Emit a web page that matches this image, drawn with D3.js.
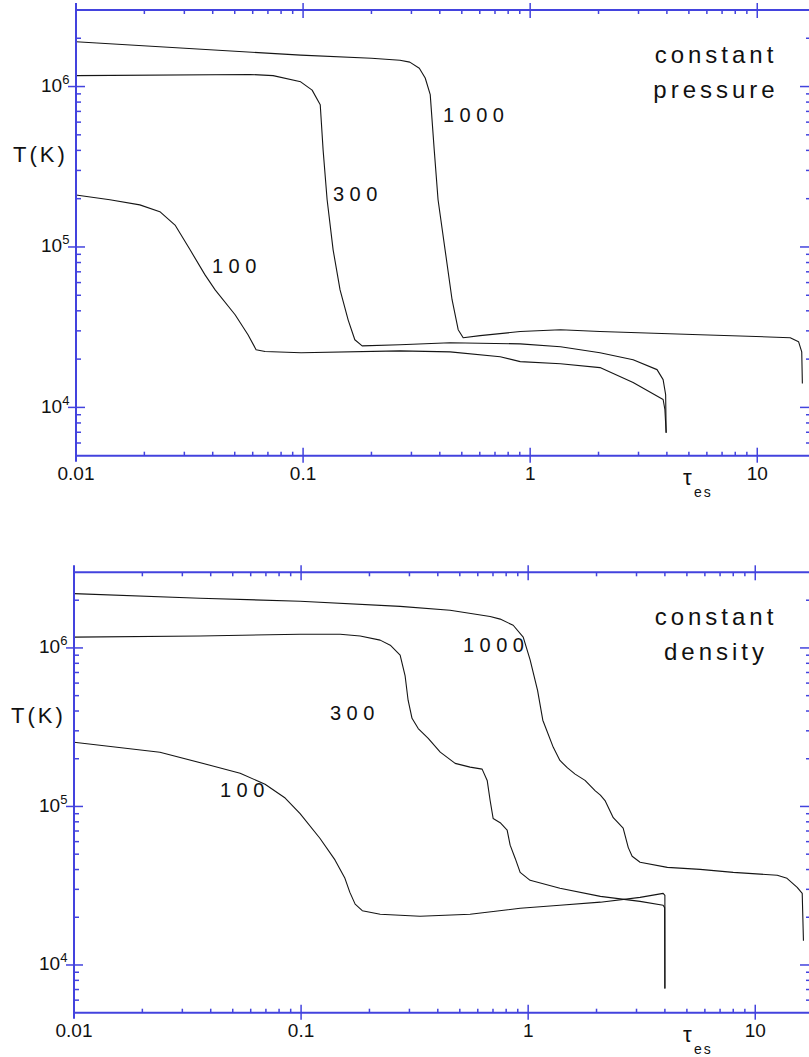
<!DOCTYPE html>
<html>
<head>
<meta charset="utf-8">
<script src="https://cdn.jsdelivr.net/npm/d3@7"></script>
<style>
  body { margin: 0; background: #fff; }
  svg text { font-family: "Liberation Sans", Arial, Helvetica, sans-serif; fill: #111; }
</style>
</head>
<body>
<script>
// ---- constant pressure curves (tau_es, T in K)
var tauP1000 = [0.01, 0.0976, 0.2, 0.267, 0.295, 0.325, 0.345, 0.363, 0.378, 0.393, 0.422, 0.453, 0.482, 0.507, 0.602, 0.904, 1.36, 2.03, 5.61, 13.97, 15.2, 15.7, 15.8];
var tP1000   = [1.90e6, 1.57e6, 1.50e6, 1.46e6, 1.42e6, 1.30e6, 1.13e6, 8.9e5, 4.03e5, 1.97e5, 9.6e4, 4.69e4, 3.05e4, 2.72e4, 2.80e4, 2.97e4, 3.05e4, 2.97e4, 2.84e4, 2.72e4, 2.57e4, 2.22e4, 1.41e4];

var tauP300 = [0.01, 0.0584, 0.0738, 0.0976, 0.1096, 0.119, 0.1225, 0.1276, 0.1356, 0.1455, 0.158, 0.169, 0.182, 0.267, 0.444, 0.904, 1.36, 2.03, 2.84, 3.62, 3.85, 3.95, 3.97];
var tP300   = [1.17e6, 1.19e6, 1.17e6, 1.07e6, 9.5e5, 7.7e5, 4.03e5, 1.97e5, 9.6e4, 5.4e4, 3.5e4, 2.64e4, 2.42e4, 2.46e4, 2.53e4, 2.49e4, 2.39e4, 2.19e4, 1.98e4, 1.72e4, 1.49e4, 1.2e4, 6.95e3];

var tauP100 = [0.01, 0.0141, 0.0191, 0.0234, 0.0273, 0.0318, 0.037, 0.041, 0.0502, 0.0572, 0.0621, 0.068, 0.098, 0.267, 0.444, 0.738, 0.904, 1.36, 2.03, 2.84, 3.85, 3.92, 3.97];
var tP100   = [2.11e5, 1.97e5, 1.83e5, 1.66e5, 1.37e5, 9.6e4, 6.7e4, 5.4e4, 3.78e4, 2.84e4, 2.29e4, 2.23e4, 2.19e4, 2.25e4, 2.22e4, 2.07e4, 1.93e4, 1.87e4, 1.77e4, 1.43e4, 1.12e4, 9.7e3, 6.95e3];

// ---- constant density curves
var tauD1000 = [0.01, 0.0359, 0.099, 0.273, 0.453, 0.68, 0.753, 0.859, 0.951, 1.02, 1.10, 1.16, 1.29, 1.38, 1.49, 1.61, 1.78, 1.97, 2.08, 2.18, 2.37, 2.62, 2.76, 2.87, 3.11, 4.10, 5.72, 8.0, 12.5, 13.8, 15.3, 16.1, 16.3];
var tD1000   = [2.20e6, 2.06e6, 1.97e6, 1.83e6, 1.73e6, 1.58e6, 1.52e6, 1.39e6, 1.17e6, 8.4e5, 5.4e5, 3.5e5, 2.36e5, 1.95e5, 1.75e5, 1.60e5, 1.46e5, 1.26e5, 1.18e5, 1.09e5, 8.5e4, 7.3e4, 5.5e4, 4.85e4, 4.45e4, 4.13e4, 4.01e4, 3.84e4, 3.68e4, 3.52e4, 3.09e4, 2.83e4, 1.42e4];

var tauD300 = [0.01, 0.0359, 0.099, 0.1486, 0.182, 0.223, 0.247, 0.273, 0.287, 0.296, 0.308, 0.328, 0.363, 0.410, 0.477, 0.555, 0.627, 0.660, 0.680, 0.701, 0.753, 0.808, 0.833, 0.877, 0.922, 1.02, 1.38, 2.08, 3.11, 3.93, 3.99, 4.0];
var tD300   = [1.17e6, 1.19e6, 1.22e6, 1.22e6, 1.19e6, 1.12e6, 1.04e6, 9.0e5, 6.7e5, 4.68e5, 3.6e5, 3.1e5, 2.69e5, 2.20e5, 1.87e5, 1.77e5, 1.72e5, 1.46e5, 1.09e5, 8.4e4, 7.9e4, 7.1e4, 5.7e4, 4.7e4, 3.84e4, 3.42e4, 3.05e4, 2.71e4, 2.52e4, 2.38e4, 2.3e4, 7.1e3];

var tauD100 = [0.01, 0.0239, 0.0397, 0.0539, 0.0694, 0.0851, 0.099, 0.121, 0.141, 0.156, 0.164, 0.173, 0.186, 0.223, 0.334, 0.555, 0.922, 1.38, 2.08, 3.11, 3.93, 4.0, 4.0];
var tD100   = [2.54e5, 2.20e5, 1.82e5, 1.62e5, 1.38e5, 1.13e5, 9.0e4, 6.3e4, 4.6e4, 3.52e4, 2.87e4, 2.42e4, 2.2e4, 2.09e4, 2.03e4, 2.09e4, 2.28e4, 2.38e4, 2.49e4, 2.67e4, 2.83e4, 2.75e4, 7.1e3];

// ---- axes
var xDomain = [0.01, 16.9];
var yDomain = [5e3, 3e6];
var xMajor = [0.01, 0.1, 1, 10];
var xLabels = ["0.01", "0.1", "1", "10"];
var xMinor = [0.02, 0.03, 0.04, 0.05, 0.06, 0.07, 0.08, 0.09,
              0.2, 0.3, 0.4, 0.5, 0.6, 0.7, 0.8, 0.9,
              2, 3, 4, 5, 6, 7, 8, 9];
var yMajor = [1e4, 1e5, 1e6];
var yExp = ["4", "5", "6"];
var yMinor = [6e3, 7e3, 8e3, 9e3,
              2e4, 3e4, 4e4, 5e4, 6e4, 7e4, 8e4, 9e4,
              2e5, 3e5, 4e5, 5e5, 6e5, 7e5, 8e5, 9e5, 2e6];

var w = 809, h = 1057;
var axisColor = "#4343de";

var svg = d3.select("body").append("svg")
            .attr("width", w)
            .attr("height", h);

function drawPanel(p) {
  var x = d3.scaleLog().domain(xDomain).range([p.left, p.right]);
  var y = d3.scaleLog().domain(yDomain).range([p.bottom, p.top]);
  var g = svg.append("g");

  var line = d3.line()
               .x(function(d) { return x(d[0]); })
               .y(function(d) { return y(d[1]); });

  p.curves.forEach(function(c) {
    g.append("path")
     .datum(d3.zip(c[0], c[1]))
     .attr("d", line)
     .attr("fill", "none")
     .attr("stroke", "#151515")
     .attr("stroke-width", 1.1)
     .attr("stroke-linejoin", "round");
  });

  // frame lines (left, bottom, top)
  var ax = g.append("g").attr("stroke", axisColor).attr("fill", "none");
  ax.append("line").attr("x1", p.left).attr("x2", p.left)
    .attr("y1", p.top - 7).attr("y2", p.bottom + 6).attr("stroke-width", 2);
  ax.append("line").attr("x1", p.left).attr("x2", w)
    .attr("y1", p.bottom).attr("y2", p.bottom).attr("stroke-width", 2);
  ax.append("line").attr("x1", p.left).attr("x2", w)
    .attr("y1", p.top).attr("y2", p.top).attr("stroke-width", 2);

  // x minor ticks, bottom (up) and top (down)
  ax.selectAll(".xmb").data(xMinor).enter().append("line")
    .attr("x1", function(d) { return x(d); }).attr("x2", function(d) { return x(d); })
    .attr("y1", p.bottom).attr("y2", p.bottom - 4).attr("stroke-width", 1.5);
  ax.selectAll(".xmt").data(xMinor).enter().append("line")
    .attr("x1", function(d) { return x(d); }).attr("x2", function(d) { return x(d); })
    .attr("y1", p.top).attr("y2", p.top + 4).attr("stroke-width", 1.5);
  // x major ticks cross the axis
  ax.selectAll(".xMb").data(xMajor.slice(1)).enter().append("line")
    .attr("x1", function(d) { return x(d); }).attr("x2", function(d) { return x(d); })
    .attr("y1", p.bottom - 8).attr("y2", p.bottom + 7).attr("stroke-width", 1.5);
  ax.selectAll(".xMt").data(xMajor.slice(1)).enter().append("line")
    .attr("x1", function(d) { return x(d); }).attr("x2", function(d) { return x(d); })
    .attr("y1", p.top - 7).attr("y2", p.top + 8).attr("stroke-width", 1.5);

  // y minor ticks, left (right) and right edge (left)
  ax.selectAll(".yml").data(yMinor).enter().append("line")
    .attr("x1", p.left).attr("x2", p.left + 5)
    .attr("y1", function(d) { return y(d); }).attr("y2", function(d) { return y(d); })
    .attr("stroke-width", 1.5);
  ax.selectAll(".ymr").data(yMinor).enter().append("line")
    .attr("x1", w - 3).attr("x2", w)
    .attr("y1", function(d) { return y(d); }).attr("y2", function(d) { return y(d); })
    .attr("stroke-width", 1.5);
  ax.selectAll(".yMl").data(yMajor).enter().append("line")
    .attr("x1", p.left - 8).attr("x2", p.left + 9)
    .attr("y1", function(d) { return y(d); }).attr("y2", function(d) { return y(d); })
    .attr("stroke-width", 1.5);
  ax.selectAll(".yMr").data(yMajor).enter().append("line")
    .attr("x1", w - 9).attr("x2", w)
    .attr("y1", function(d) { return y(d); }).attr("y2", function(d) { return y(d); })
    .attr("stroke-width", 1.5);

  // tick labels
  g.selectAll(".xl").data(xMajor).enter().append("text")
   .attr("x", function(d) { return x(d); })
   .attr("y", p.bottom + 24.5)
   .attr("text-anchor", "middle")
   .attr("font-size", "19px")
   .text(function(d, i) { return xLabels[i]; });

  var yl = g.selectAll(".yl").data(yMajor).enter().append("text")
    .attr("x", p.left - 35)
    .attr("y", function(d) { return y(d) + 5.5; })
    .attr("font-size", "19px");
  yl.append("tspan").text("10");
  yl.append("tspan").attr("dy", -8).attr("font-size", "13px")
    .text(function(d, i) { return yExp[i]; });

  // axis titles
  g.append("text").attr("x", p.left - 63).attr("y", y(1e6) + 75)
   .attr("font-size", "22px").attr("letter-spacing", "3px").text("T(K)");

  var tx = g.append("text").attr("x", 683).attr("y", p.bottom + 29).attr("font-size", "22px");
  tx.append("tspan").text("\u03c4");
  tx.append("tspan").attr("x", 694).attr("dy", 12).attr("font-size", "14px")
    .attr("letter-spacing", "2px").text("es");

  // panel title
  p.title.forEach(function(t, i) {
    g.append("text").attr("x", 716).attr("y", p.top + p.titleY + i * 35)
     .attr("text-anchor", "middle").attr("font-size", "24px")
     .attr("letter-spacing", "4px").text(t);
  });

  // curve labels
  p.labels.forEach(function(l) {
    g.append("text").attr("x", l[1]).attr("y", l[2])
     .attr("font-size", "20px").attr("letter-spacing", "5.5px").text(l[0]);
  });
}

drawPanel({
  left: 76, right: 809, top: 10, bottom: 455.7,
  curves: [[tauP1000, tP1000], [tauP300, tP300], [tauP100, tP100]],
  title: ["constant", "pressure"], titleY: 53,
  labels: [["1000", 443, 122], ["300", 333, 201], ["100", 212, 273]]
});

drawPanel({
  left: 74, right: 807, top: 572.3, bottom: 1012.7,
  curves: [[tauD1000, tD1000], [tauD300, tD300], [tauD100, tD100]],
  title: ["constant", "density"], titleY: 53,
  labels: [["1000", 463, 652], ["300", 330, 720], ["100", 220, 797]]
});
</script>
</body>
</html>
